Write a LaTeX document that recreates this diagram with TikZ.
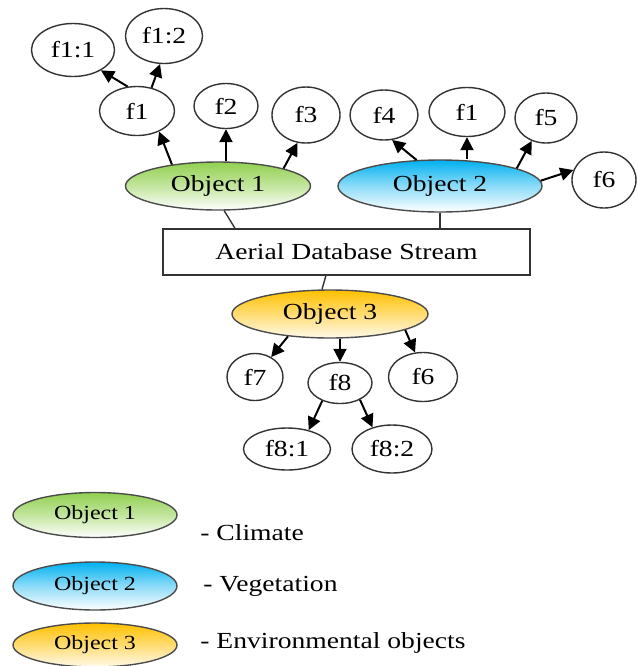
\documentclass[tikz,border=0pt]{standalone}
\usepackage{fontspec}
\setmainfont{Liberation Serif}[FakeStretch=1.2]
\usetikzlibrary{shapes.geometric,arrows.meta}
\definecolor{objgreen}{RGB}{146,208,80}
\definecolor{objblue}{RGB}{0,176,240}
\definecolor{objorange}{RGB}{255,192,0}
\tikzset{
  feat/.style={ellipse,draw=black!80,line width=0.7pt,inner sep=0pt,
    font=\fontsize{11.5}{13}\selectfont},
  objA/.style={ellipse,draw=black!70,line width=0.7pt,inner sep=0pt,
    top color=objgreen,bottom color=white,middle color=objgreen!55},
  objB/.style={ellipse,draw=black!70,line width=0.7pt,inner sep=0pt,
    top color=objblue,bottom color=white,middle color=objblue!45},
  objC/.style={ellipse,draw=black!70,line width=0.7pt,inner sep=0pt,
    top color=objorange,bottom color=objorange!8,middle color=objorange!55},
  arr/.style={-{Triangle[length=6.5pt,width=6.5pt]},line width=1pt},
  link/.style={line width=0.7pt,black!80}
}
\begin{document}
\begin{tikzpicture}[x=0.5pt,y=-0.5pt]
                \useasboundingbox (0,0) rectangle (637,666);
                \node[feat,minimum width=41.5pt,minimum height=26.5pt] (f11) at (73,50) {f1:1};
                \node[feat,minimum width=38.5pt,minimum height=27.5pt] (f12) at (164,36) {f1:2};
                \node[feat,minimum width=37.5pt,minimum height=24.5pt] (f1a) at (137,111) {f1};
                \node[feat,minimum width=32pt,minimum height=22.5pt] (f2) at (226,106) {f2};
                \node[feat,minimum width=34pt,minimum height=28pt] (f3) at (306,115) {f3};
                \node[objA,minimum width=92.5pt,minimum height=24pt,
                  font=\fontsize{11.5}{13}\selectfont] (ob1) at (218,186) {Object 1};
                \node[feat,minimum width=34pt,minimum height=25pt] (f4) at (384,115) {f4};
                \node[feat,minimum width=38pt,minimum height=24.5pt] (f1b) at (467,112) {f1};
                \node[feat,minimum width=31pt,minimum height=25pt] (f5) at (546,118) {f5};
                \node[feat,minimum width=32pt,minimum height=28pt] (f6a) at (604,180) {f6};
                \node[objB,minimum width=102pt,minimum height=26pt,
                  font=\fontsize{11.5}{13}\selectfont] (ob2) at (440,186) {Object 2};
                \node[draw=black!80,line width=0.7pt,minimum width=183.5pt,minimum height=23pt,
                  inner sep=0pt,font=\fontsize{11.5}{13}\selectfont] (db) at (346.5,252) {Aerial Database Stream};
                \node[objC,minimum width=98pt,minimum height=24pt,
                  font=\fontsize{11.5}{13}\selectfont] (ob3) at (330,314) {Object 3};
                \node[feat,minimum width=28pt,minimum height=23.5pt] (f7) at (255,377) {f7};
                \node[feat,minimum width=32pt,minimum height=20.5pt] (f8) at (340,383) {f8};
                \node[feat,minimum width=34.5pt,minimum height=24.5pt] (f6b) at (423,377) {f6};
                \node[feat,minimum width=43.5pt,minimum height=21pt] (f81) at (287,449) {f8:1};
                \node[feat,minimum width=40pt,minimum height=24pt] (f82) at (392,449) {f8:2};
                \draw[arr] (ob1.155) -- (f1a.317);
                \draw[arr] (f2.south |- ob1.north) -- (f2.south);
                \draw[arr] (ob1.15) -- (f3.253);
                \draw[arr] (f1a.111) -- (f11.324);
                \draw[arr] (f1a.58) -- (f12.262);
                \draw[arr] (ob2.132) -- (f4.288);
                \draw[arr] (f1b.south |- ob2.north) -- (f1b.south);
                \draw[arr] (ob2.13) -- (f5.238);
                \draw[arr] (ob2.3) -- (f6a.162);
                \draw[arr] (ob3.208) -- (f7.51);
                \draw[arr] (f8.north |- ob3.south) -- (f8.north);
                \draw[arr] (ob3.348) -- (f6b.108);
                \draw[arr] (f8.225) -- (f81.41);
                \draw[arr] (f8.320) -- (f82.132);
                \draw[link] (ob1.284) -- (db.168.5);
                \draw[link] (ob2.south) -- (ob2.south |- db.north);
                \draw[link] (db.229.7) -- (ob3.108);
                \node[objA,minimum width=82pt,minimum height=22.5pt,
                  font=\fontsize{10}{12}\selectfont] (lg1) at (95,515) {Object 1};
                \node[objB,minimum width=82pt,minimum height=24pt,
                  font=\fontsize{10}{12}\selectfont] (lg2) at (95,586) {Object 2};
                \node[objC,minimum width=82pt,minimum height=22pt,
                  font=\fontsize{10}{12}\selectfont] (lg3) at (95,645) {Object 3};
                \node[anchor=west,inner sep=0pt,font=\fontsize{11.5}{13}\selectfont] (t1) at (200,533) {- Climate};
                \node[anchor=west,inner sep=0pt,font=\fontsize{11.5}{13}\selectfont] (t2) at (203,586) {- Vegetation};
                \node[anchor=west,inner sep=0pt,font=\fontsize{11.5}{13}\selectfont] (t3) at (200,643) {- Environmental objects};
            \end{tikzpicture}
\end{document}
